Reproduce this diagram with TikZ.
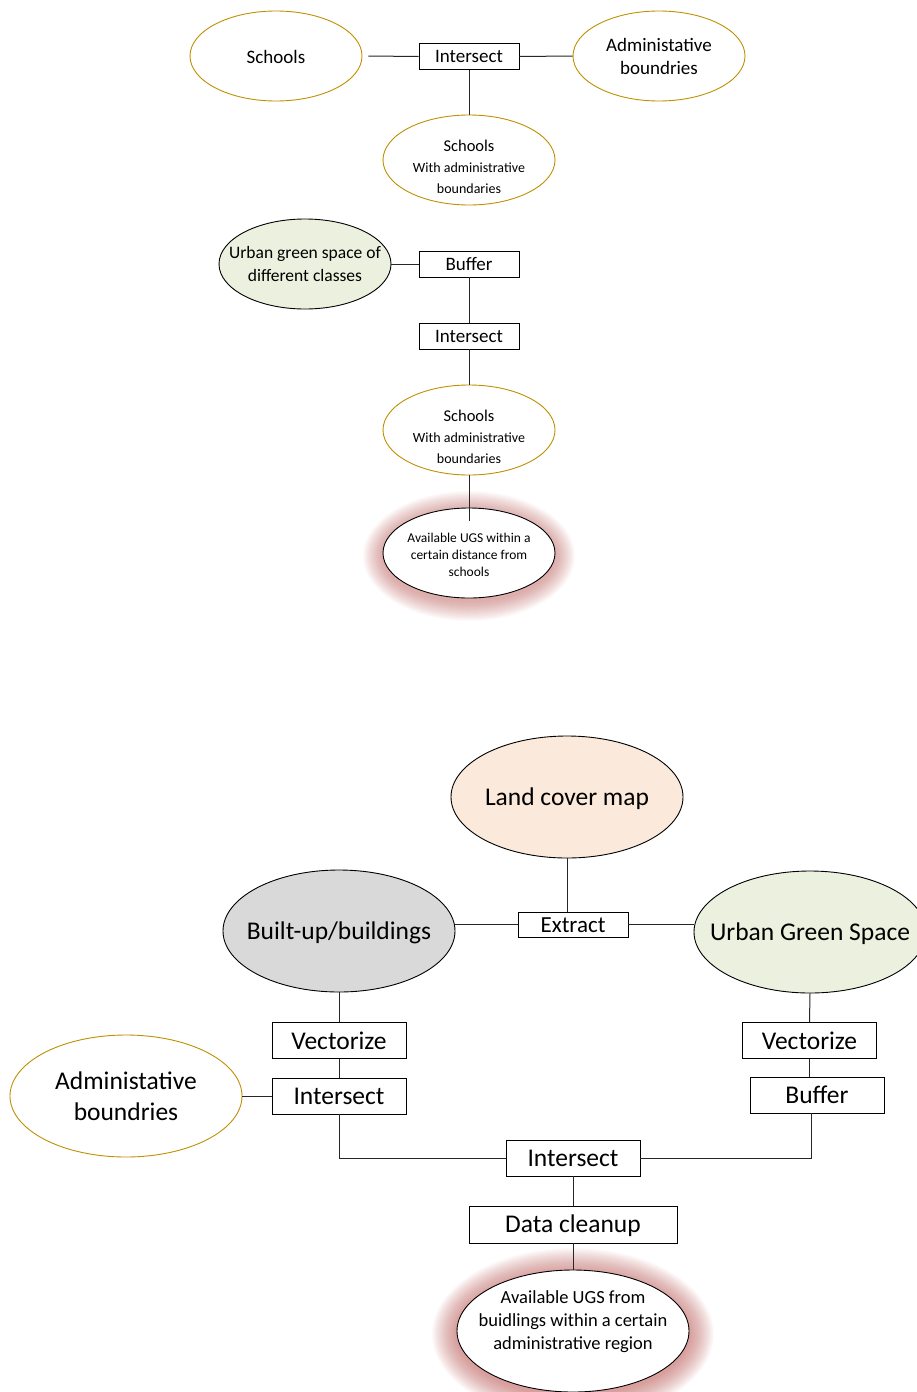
\documentclass[tikz,border=0pt]{standalone}
\usepackage{fontspec}
\setmainfont{Carlito}
\usetikzlibrary{shapes.geometric,calc}
\definecolor{gold}{RGB}{191,144,0}
\definecolor{greenfill}{RGB}{235,241,222}
\definecolor{peach}{RGB}{251,233,219}
\definecolor{grayfill}{RGB}{217,217,217}
\definecolor{glowred}{RGB}{192,80,77}
\tikzset{
  oval/.style={ellipse, draw=black, inner sep=0pt, line width=0.9pt},
  goldoval/.style={oval, draw=gold},
  smalloval/.style={minimum width=172pt, minimum height=90pt},
  bigoval/.style={minimum width=232pt, minimum height=122pt},
  lbl/.style={align=center, inner sep=0pt},
  procbox/.style={draw=black, rectangle, inner sep=0pt, line width=0.9pt, fill=white},
  topbox/.style={procbox, minimum width=100pt, minimum height=26pt, font=\fontsize{19}{22}\selectfont},
  botbox/.style={procbox, minimum width=134pt, minimum height=36pt, font=\fontsize{25.5}{28}\selectfont},
  conn/.style={draw=black!85, line width=1pt},
  topfont/.style={font=\fontsize{19}{23}\selectfont},
  botfont/.style={font=\fontsize{25.5}{31}\selectfont}
}
\begin{document}
\begin{tikzpicture}[x=1pt,y=-1pt]
\useasboundingbox (0,0) rectangle (917,1392);
\fill[white] (0,0) rectangle (917,1392);

% ---------- top section ----------
\node[goldoval, smalloval, label={[lbl, topfont, yshift=-1pt]center:Schools}] (sch) at (276,56) {};
\node[topbox] (int1) at (469,56.5) {Intersect};
\node[goldoval, smalloval, label={[lbl, topfont]center:Administative\\boundries}] (adm) at (659,56) {};
\node[goldoval, smalloval, label={[lbl, font=\fontsize{14}{21}\selectfont, yshift=-7pt]center:{\fontsize{16.5}{18}\selectfont Schools}\\With administrative\\boundaries}] (swa) at (469,160) {};
\draw[conn] ([xshift=6pt]sch.east) -- (int1.west);
\draw[conn] (int1.east) -- (adm.west);
\draw[conn] (int1.south) -- (swa.north);

% ---------- second section ----------
\node[oval, smalloval, fill=greenfill, label={[lbl, font=\fontsize{17.5}{23}\selectfont]center:Urban green space of\\different classes}] (ugs) at (305,264) {};
\node[topbox] (buf1) at (469,264) {Buffer};
\node[topbox] (int2) at (469,336) {Intersect};
\node[goldoval, smalloval, label={[lbl, font=\fontsize{14}{21}\selectfont, yshift=-7pt]center:{\fontsize{16.5}{18}\selectfont Schools}\\With administrative\\boundaries}] (swb) at (469,430) {};
\foreach \k in {1,...,20}{
  \fill[glowred, opacity=0.026] (469,556) ellipse [x radius={86+21-\k}, y radius={45+21-\k}];
}
\node[oval, smalloval, fill=white, label={[lbl, font=\fontsize{13.5}{17}\selectfont, yshift=-2pt]center:Available UGS within a\\certain distance from\\schools}] (av1) at (469,553) {};
\draw[conn] (ugs.east) -- (buf1.west);
\draw[conn] (buf1.south) -- (int2.north);
\draw[conn] (int2.south) -- (swb.north);
\draw[conn] (swb.south) -- ([yshift=-13pt]av1.north);

% ---------- bottom section ----------
\node[oval, bigoval, fill=peach, label={[lbl, botfont, yshift=-2pt]center:Land cover map}] (lcm) at (567,797) {};
\node[procbox, minimum width=110pt, minimum height=25pt, label={[lbl, font=\fontsize{23}{26}\selectfont, yshift=-1pt]center:Extract}] (ext) at (573,924.5) {};
\node[oval, bigoval, fill=grayfill, label={[lbl, botfont, yshift=-2pt]center:Built-up/buildings}] (bui) at (339,931) {};
\node[oval, bigoval, fill=greenfill, label={[lbl, botfont, yshift=-2pt]center:Urban Green Space}] (ugsb) at (810,932) {};
\node[botbox] (vecL) at (339,1040.5) {Vectorize};
\node[botbox] (intL) at (339,1096) {Intersect};
\node[goldoval, bigoval, label={[lbl, botfont]center:Administative\\boundries}] (admb) at (126,1096) {};
\node[botbox] (vecR) at (809.5,1040.5) {Vectorize};
\node[botbox] (bufR) at (817,1095) {Buffer};
\node[botbox] (intC) at (573,1158) {Intersect};
\node[procbox, minimum width=208pt, minimum height=37pt, label={[lbl, font=\fontsize{25.5}{28}\selectfont, yshift=-1pt]center:Data cleanup}] (dcl) at (573,1224.5) {};
\foreach \k in {1,...,25}{
  \fill[glowred, opacity=0.026] (573,1334) ellipse [x radius={116+26-\k}, y radius={61+26-\k}];
}
\node[oval, bigoval, fill=white, label={[lbl, font=\fontsize{18.5}{23}\selectfont, yshift=9pt]center:Available UGS from\\buidlings within a certain\\administrative region}] (av2) at (573,1331) {};

\draw[conn] (lcm.south) -- (lcm.south |- ext.north);
\draw[conn] (ext.west) -- (ext.west -| bui.east);
\draw[conn] (ext.east) -- (ext.east -| ugsb.west);
\draw[conn] (bui.south) -- (vecL.north);
\draw[conn] (vecL.south) -- (intL.north);
\draw[conn] (admb.east) -- (intL.west);
\draw[conn] (ugsb.south) -- (vecR.north);
\draw[conn] (vecR.south) -- (vecR.south |- bufR.north);
\draw[conn] (intL.south) |- (intC.west);
\draw[conn] ([xshift=-6pt]bufR.south) |- (intC.east);
\draw[conn] (intC.south) -- (dcl.north);
\draw[conn] (dcl.south) -- (av2.north);
\end{tikzpicture}
\end{document}
